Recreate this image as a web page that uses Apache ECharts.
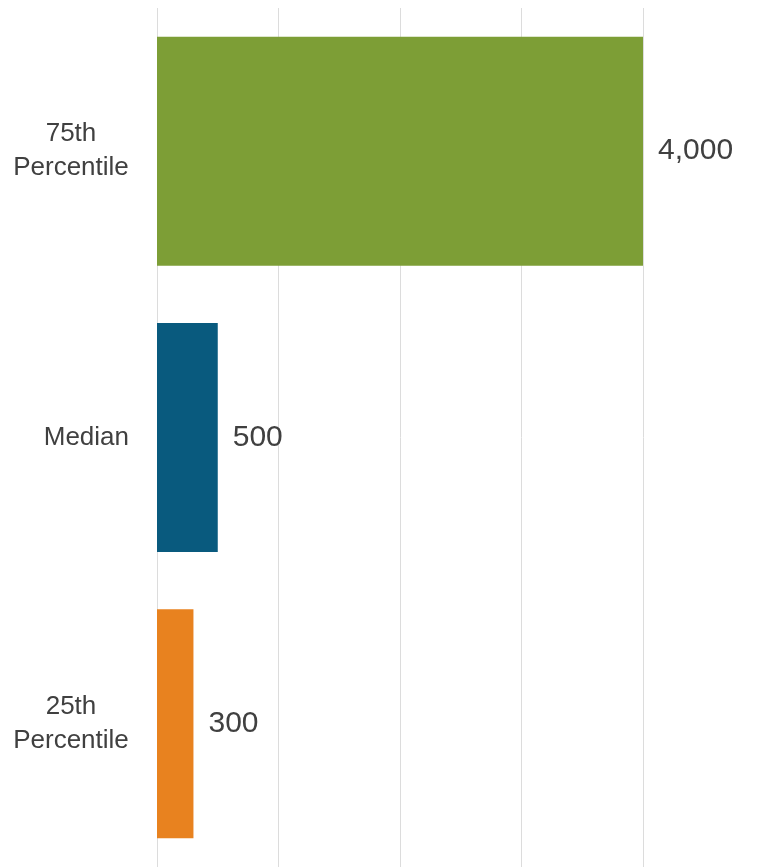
<!DOCTYPE html>
<html>
<head>
<meta charset="utf-8">
<script src="https://cdn.jsdelivr.net/npm/echarts@6/dist/echarts.min.js"></script>
<style>
html,body{margin:0;padding:0;background:#fff;}
#chart{width:759px;height:867px;}
</style>
</head>
<body>
<div id="chart"></div>
<script>
const categories = ['75th\nPercentile', 'Median', '25th\nPercentile'];
const values = [4000, 500, 300];
const xTicks = [0, 1000, 2000, 3000, 4000];

const barColors = ['#7d9e36', '#095a7e', '#e8821f'];
const FONT = '"Liberation Sans Narrow", "Arial Narrow", "Liberation Sans", Arial, sans-serif';

const chart = echarts.init(document.getElementById('chart'));
chart.setOption({
  animation: false,
  grid: { left: 157, width: 486, top: 8, height: 860, containLabel: false },
  xAxis: {
    type: 'value',
    min: xTicks[0],
    max: xTicks[xTicks.length - 1],
    interval: xTicks[1] - xTicks[0],
    axisLabel: { show: false },
    axisLine: { show: false },
    axisTick: { show: false },
    splitLine: { show: true, lineStyle: { color: '#dcdcdc', width: 1 } }
  },
  yAxis: {
    type: 'category',
    data: categories,
    inverse: true,
    axisLine: { show: false },
    axisTick: { show: false },
    axisLabel: {
      margin: 28,
      fontFamily: FONT,
      fontSize: 26,
      color: '#404040',
      lineHeight: 34,
      formatter: function (v) {
        if (v.indexOf('\n') >= 0) {
          return v.split('\n').map(function (s) { return '{c|' + s + '}'; }).join('\n');
        }
        return v;
      },
      rich: {
        c: { width: 116, align: 'center', fontFamily: FONT, fontSize: 26, color: '#404040', lineHeight: 34 }
      }
    }
  },
  series: [{
    type: 'bar',
    barCategoryGap: '20%',
    data: values.map(function (v, i) {
      return { value: v, itemStyle: { color: barColors[i] } };
    }),
    label: {
      show: true,
      position: 'right',
      distance: 15,
      fontFamily: FONT,
      fontSize: 30,
      color: '#404040',
      formatter: function (p) { return p.value.toLocaleString('en-US'); }
    }
  }]
});
</script>
</body>
</html>
